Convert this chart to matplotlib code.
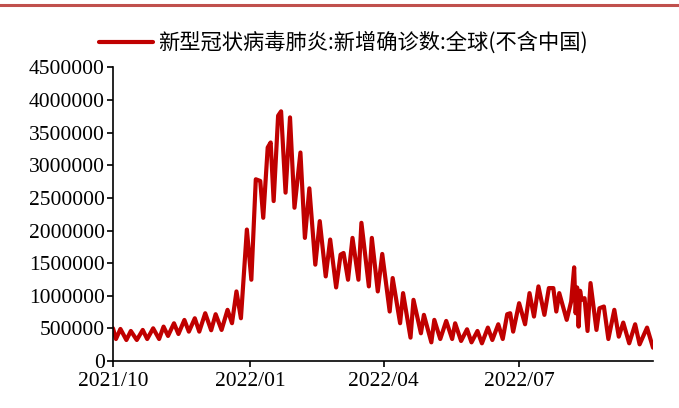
import matplotlib
matplotlib.use("Agg")
import matplotlib.pyplot as plt
import matplotlib.dates as mdates
from matplotlib.lines import Line2D
import pandas as pd

plt.rcParams['font.family'] = ['Liberation Serif', 'Noto Sans CJK SC']

# 新增确诊(全球不含中国), peaks / troughs
start = pd.Timestamp('2021-10-01')
days = [0, 2, 5, 9, 12, 16, 20, 23, 27, 31,
        34, 37, 41, 44, 48, 51, 55, 58, 62, 66,
        69, 73, 77, 80, 83, 86, 90, 93, 96, 99,
        101, 104, 106, 108, 111, 113, 116, 119, 122, 126,
        129, 132, 136, 139, 143, 146, 150, 153, 155, 158,
        161, 165, 167, 172, 174, 178, 181, 186, 188, 193,
        195, 200, 202, 207, 209, 214, 216, 220, 224, 228,
        230, 234, 238, 241, 245, 248, 252, 255, 259, 262,
        265, 267, 269, 273, 277, 280, 283, 286, 290, 293,
        296, 298, 300, 305, 308, 310, 311, 312, 313, 314,
        315, 317, 319, 321, 325, 327, 330, 333, 337, 340,
        343, 347, 351, 354, 359, 363]
cases_k = [502, 338, 492, 323, 461, 323, 477, 338, 502, 338,
           528, 385, 579, 415, 630, 451, 656, 451, 733, 472,
           718, 477, 785, 580, 1067, 656, 2015, 1246, 2785, 2759,
           2195, 3272, 3349, 2451, 3759, 3826, 2580, 3733, 2349, 3195,
           1887, 2646, 1477, 2144, 1297, 1862, 1128, 1631, 1656, 1246,
           1887, 1246, 2118, 1144, 1887, 1067, 1641, 759, 1272, 580,
           1041, 359, 938, 426, 708, 287, 631, 338, 615, 338,
           579, 308, 487, 287, 461, 272, 513, 323, 564, 338,
           718, 733, 451, 887, 564, 1041, 682, 1144, 708, 1118,
           1118, 759, 1041, 631, 913, 1436, 733, 1128, 528, 1077,
           938, 964, 461, 1195, 477, 810, 836, 338, 785, 374,
           590, 272, 564, 256, 513, 205]
label = '新型冠状病毒肺炎:新增确诊数:全球(不含中国)'
xticks = ['2021-10-01', '2022-01-01', '2022-04-01', '2022-07-01']

dates = [start + pd.Timedelta(days=d) for d in days]
cases = [v * 1000 for v in cases_k]

fig = plt.figure(figsize=(6.79, 4.08), dpi=100)
ax = fig.add_axes([0.1664, 0.115, 0.7953, 0.72])

ax.plot(dates, cases, color='#C00000', lw=3.0, solid_joinstyle='round',
        solid_capstyle='round', label=label)

ax.set_ylim(0, 4500000)
ax.set_yticks(range(0, 4500001, 500000))
ax.set_yticklabels([str(v) for v in range(0, 4500001, 500000)])
ax.set_xlim(dates[0], dates[-1])
ax.set_xticks([pd.Timestamp(t) for t in xticks])
ax.xaxis.set_major_formatter(mdates.DateFormatter('%Y/%m'))

for s in ['top', 'right']:
    ax.spines[s].set_visible(False)
for s in ['left', 'bottom']:
    ax.spines[s].set_linewidth(1.2)
ax.tick_params(direction='out', length=4, width=1.2, labelsize=15.5, colors='black')
ax.tick_params(axis='x', pad=4)
ax.tick_params(axis='y', pad=2)

leg = fig.legend(loc='center', bbox_to_anchor=(0.506, 0.895), frameon=False,
                 handlelength=2.5, handletextpad=0.25,
                 prop={'family': ['Noto Sans CJK SC'], 'size': 15.3})

fig.add_artist(Line2D([0, 1], [0.988, 0.988], transform=fig.transFigure,
                      color='#C0504D', lw=2.2))

fig.savefig('out.png', dpi=100)
